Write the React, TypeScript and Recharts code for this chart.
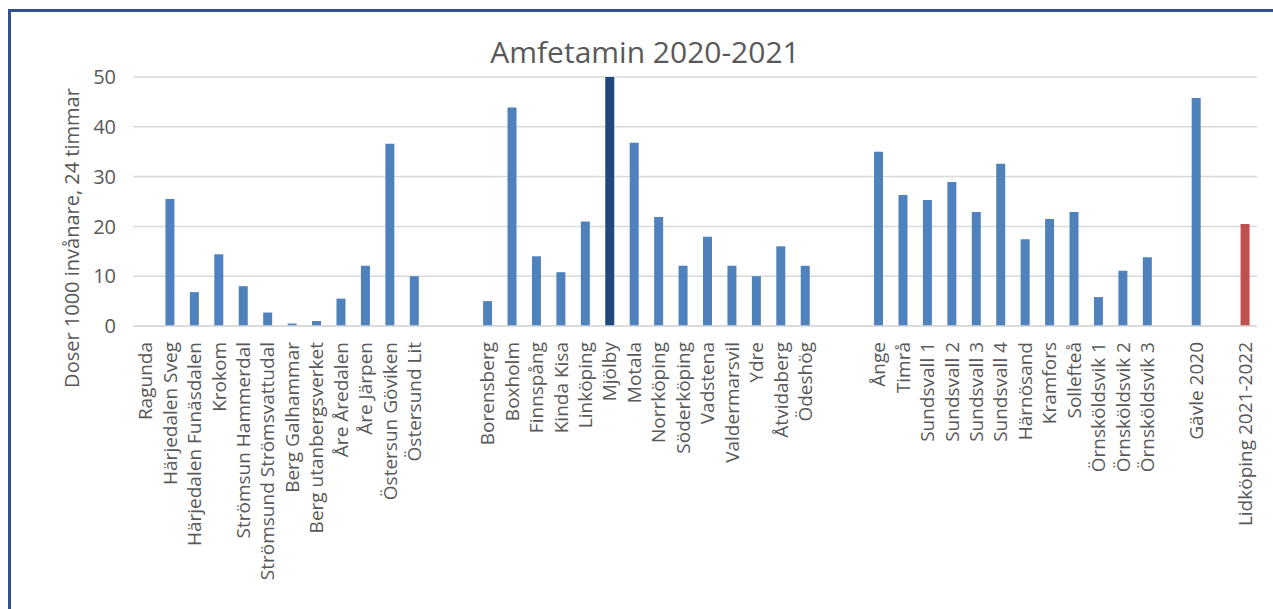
import { BarChart, Bar, XAxis, YAxis, CartesianGrid, Cell } from 'recharts';

const categories = [
  'Ragunda', 'Härjedalen Sveg', 'Härjedalen Funäsdalen', 'Krokom', 'Strömsun Hammerdal',
  'Strömsund Strömsvattudal', 'Berg Galhammar', 'Berg utanbergsverket', 'Åre Åredalen', 'Åre Järpen',
  'Östersun Göviken', 'Östersund Lit', '', '',
  'Borensberg', 'Boxholm', 'Finnspång', 'Kinda Kisa', 'Linköping', 'Mjölby', 'Motala', 'Norrköping',
  'Söderköping', 'Vadstena', 'Valdermarsvil', 'Ydre', 'Åtvidaberg', 'Ödeshög', '', '',
  'Ånge', 'Timrå', 'Sundsvall 1', 'Sundsvall 2', 'Sundsvall 3', 'Sundsvall 4', 'Härnösand', 'Kramfors',
  'Sollefteå', 'Örnsköldsvik 1', 'Örnsköldsvik 2', 'Örnsköldsvik 3', '',
  'Gävle 2020', '', 'Lidköping 2021-2022',
];

const doses: (number | null)[] = [
  0, 25.5, 6.8, 14.4, 8.0, 2.7, 0.5, 1.0, 5.5, 12.1, 36.6, 10.0, null, null,
  5.0, 43.9, 14.0, 10.8, 21.0, 50, 36.8, 21.9, 12.1, 17.9, 12.1, 10.0, 16.0, 12.1, null, null,
  35.0, 26.3, 25.3, 28.9, 22.9, 32.6, 17.4, 21.5, 22.9, 5.8, 11.1, 13.8, null,
  45.8, null, 20.5,
];

const yTicks = [0, 10, 20, 30, 40, 50];

const highlight = 'Mjölby';
const reference = 'Lidköping 2021-2022';

const data = categories.map((name, i) => ({ id: i, name, value: doses[i] }));

const ink = '#595959';
const font = '"Open Sans", sans-serif';

function barColor(name: string) {
  if (name === highlight) return '#1F497D';
  if (name === reference) return '#C0504D';
  return '#4F81BD';
}

const XTick = ({ x, y, payload }: any) => {
  const ty = y + 16;
  return (
    <text
      x={x}
      y={ty}
      transform={`rotate(-90 ${x} ${ty})`}
      textAnchor="end"
      dominantBaseline="central"
      fill={ink}
      fontSize={19}
      fontFamily={font}
    >
      {payload.value}
    </text>
  );
};

export default function App() {
  return (
    <div
      style={{
        position: 'absolute',
        left: 0,
        top: 0,
        width: 1273,
        height: 609,
        overflow: 'hidden',
        background: '#fff',
      }}
    >
      <div
        style={{
          position: 'absolute',
          left: 8,
          top: 9,
          width: 1400,
          height: 700,
          border: '3px solid #2F528F',
        }}
      />
      <BarChart
        width={1273}
        height={609}
        data={data}
        margin={{ top: 77, right: 16, left: 0, bottom: 0 }}
        barSize={9}
      >
        <CartesianGrid vertical={false} stroke="#d9d9d9" strokeWidth={1.5} />
        <XAxis
          dataKey="name"
          interval={0}
          height={283}
          tickLine={false}
          tickSize={0}
          tickMargin={0}
          axisLine={{ stroke: '#d9d9d9', strokeWidth: 1.5 }}
          tick={<XTick />}
        />
        <YAxis
          width={133}
          domain={[0, 50]}
          ticks={yTicks}
          allowDataOverflow
          tickLine={false}
          axisLine={false}
          tickSize={0}
          tickMargin={17}
          tick={{ fill: ink, fontSize: 20, fontFamily: font }}
        />
        <Bar dataKey="value" isAnimationActive={false}>
          {data.map(d => (
            <Cell key={d.id} fill={barColor(d.name)} />
          ))}
        </Bar>
      </BarChart>
      <svg
        width={1273}
        height={609}
        style={{ position: 'absolute', left: 0, top: 0, pointerEvents: 'none' }}
      >
        <text x={645} y={63} textAnchor="middle" fill={ink} fontSize={30} fontFamily={font}>
          Amfetamin 2020-2021
        </text>
        <text
          x={79}
          y={238}
          transform="rotate(-90 79 238)"
          textAnchor="middle"
          fill={ink}
          fontSize={20}
          fontFamily={font}
        >
          Doser 1000 invånare, 24 timmar
        </text>
      </svg>
    </div>
  );
}
